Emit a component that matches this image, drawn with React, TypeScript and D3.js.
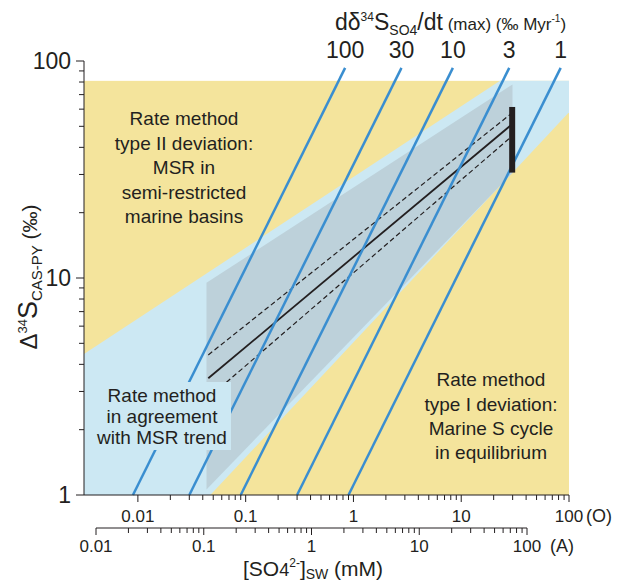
import React from "react";
import * as d3 from "d3";

// ---- data ----
const rates = [100, 30, 10, 3, 1]; // dδ34S/dt (max) lines, ‰/Myr
const rateLineDelta = [1, 93]; // Δ34S range of each rate line
const rateCoef = 0.9; // [SO4] (O) at Δ=1 for rate 1

const plotBox = { xMin: Math.pow(10, -2.5), xMax: 100, yMin: 1, yMax: 81 };

// light blue band polygon ([SO4] O, Δ34S)
const bandX = [Math.pow(10, -2.5), Math.pow(10, -2.5), 22.9, 100, 100, 0.047];
const bandY = [1, 4.47, 81, 81, 58, 1];

// gray envelope polygon
const grayX = [0.0433, 0.0433, 29.9, 29.9];
const grayY = [1.06, 9.5, 78, 30.5];

// trend lines
const trendX = [0.045, 29.5];
const trendMid = [3.45, 51];
const trendUp = [4.42, 57.5];
const trendLo = [2.8, 45];

// vertical bar
const barX = 29.7;
const barY = [30.6, 61.4];

const oTicksMajor = [0.01, 0.1, 1, 10, 100];
const oTickLabels = ["0.01", "0.1", "1", "10", "100"];
const aTicksMajor = [0.01, 0.1, 1, 10, 100];
const aTickLabels = ["0.01", "0.1", "1", "10", "100"];
const yTicksMajor = [1, 10, 100];
const yTickLabels = ["1", "10", "100"];

const minorMult = [2, 3, 4, 5, 6, 7, 8, 9];

const YELLOW = "#f4e49c";
const LBLUE = "#cce8f3";
const GRAY = "#bdd1da";
const LINEBLUE = "#3a8ed0";
const INK = "#231f20";
const FONT = "'Liberation Sans', Arial, sans-serif";

export default function App() {
  const x = d3.scaleLog().domain([plotBox.xMin, 100]).range([84, 569]);
  const y = d3.scaleLog().domain([1, 100]).range([495, 61]);
  const xa = d3.scaleLog().domain([0.01, 100]).range([96, 527]);

  const poly = (xs: number[], ys: number[]) =>
    d3.line<number>().x((_, i) => x(xs[i])).y((_, i) => y(ys[i]))(xs.map((v) => v)) + "Z";
  const seg = (xs: number[], ys: number[]) =>
    d3.line<number>().x((_, i) => x(xs[i])).y((_, i) => y(ys[i]))(xs.map((v) => v)) || "";

  const minors = (lo: number, hi: number) => {
    const out: number[] = [];
    for (let d = lo; d < hi; d *= 10) minorMult.forEach((m) => out.push(d * m));
    return out;
  };

  const oMinor = minors(0.01, 100);
  const aMinor = minors(0.01, 100);
  const yMinor = minors(1, 100);

  return (
    <svg
      width={619}
      height={584}
      style={{ position: "absolute", left: 0, top: 0, background: "#fff" }}
      fontFamily={FONT}
    >
      {/* background yellow */}
      <rect
        x={x(plotBox.xMin)}
        y={y(plotBox.yMax)}
        width={x(plotBox.xMax) - x(plotBox.xMin)}
        height={y(plotBox.yMin) - y(plotBox.yMax)}
        fill={YELLOW}
      />
      <path d={poly(bandX, bandY)} fill={LBLUE} />
      <path d={poly(grayX, grayY)} fill={GRAY} />

      {/* trend lines */}
      <path d={seg(trendX, trendUp)} stroke={INK} strokeWidth={1.2} strokeDasharray="5,3" fill="none" />
      <path d={seg(trendX, trendLo)} stroke={INK} strokeWidth={1.2} strokeDasharray="5,3" fill="none" />
      <path d={seg(trendX, trendMid)} stroke={INK} strokeWidth={1.8} fill="none" />

      {/* rate lines */}
      {rates.map((r) => {
        const xs = rateLineDelta.map((d) => (rateCoef * d) / r);
        return (
          <path key={r} d={seg(xs, rateLineDelta)} stroke={LINEBLUE} strokeWidth={2.5} fill="none" />
        );
      })}

      {/* bar */}
      <rect x={x(barX) - 3} y={y(barY[1])} width={6} height={y(barY[0]) - y(barY[1])} fill={INK} />

      {/* text box lower-left */}
      <rect x={93} y={382} width={138} height={68} fill={LBLUE} />
      <g fontSize={19} fill={INK} textAnchor="middle">
        <text x={162} y={401.5}>Rate method</text>
        <text x={162} y={422.5}>in agreement</text>
        <text x={162} y={443.5}>with MSR trend</text>
      </g>

      {/* annotations */}
      <g fontSize={19} fill={INK} textAnchor="middle">
        <text x={184} y={125}>Rate method</text>
        <text x={184} y={149.5}>type II deviation:</text>
        <text x={184} y={174}>MSR in</text>
        <text x={184} y={198.5}>semi-restricted</text>
        <text x={184} y={222.5}>marine basins</text>

        <text x={491} y={386}>Rate method</text>
        <text x={491} y={410.5}>type I deviation:</text>
        <text x={491} y={435}>Marine S cycle</text>
        <text x={491} y={459}>in equilibrium</text>
      </g>

      {/* rate labels */}
      <g fontSize={23} fill={INK} textAnchor="middle">
        {rates.map((r) => (
          <text key={r} x={x((rateCoef * rateLineDelta[1]) / r)} y={58}>
            {r}
          </text>
        ))}
      </g>

      {/* title */}
      <text x={335} y={30} fill={INK} fontSize={23}>
        <tspan>dδ</tspan>
        <tspan fontSize={12} dy={-9}>34</tspan>
        <tspan dy={9}>S</tspan>
        <tspan fontSize={14} dy={5}>SO4</tspan>
        <tspan dy={-5}>/dt</tspan>
        <tspan fontSize={17}> (max) (‰ Myr</tspan>
        <tspan fontSize={10} dy={-8}>-1</tspan>
        <tspan fontSize={17} dy={8}>)</tspan>
      </text>

      {/* Y axis */}
      <g stroke={INK} strokeWidth={1}>
        <line x1={84} x2={84} y1={y(100)} y2={y(1)} />
        {yTicksMajor.map((t) => (
          <line key={t} x1={76} x2={84} y1={y(t)} y2={y(t)} />
        ))}
        {yMinor.map((t) => (
          <line key={t} x1={79} x2={84} y1={y(t)} y2={y(t)} />
        ))}
      </g>
      <g fontSize={23} fill={INK} textAnchor="end">
        {yTicksMajor.map((t, i) => (
          <text key={t} x={71} y={y(t) + 8}>
            {yTickLabels[i]}
          </text>
        ))}
      </g>
      <text transform="translate(37,277) rotate(-90)" textAnchor="middle" fill={INK} fontSize={24}>
        <tspan>Δ</tspan>
        <tspan fontSize={13} dy={-10}>34</tspan>
        <tspan fontSize={27} dy={10}>S</tspan>
        <tspan fontSize={15} dy={5}>CAS-PY</tspan>
        <tspan fontSize={21} dy={-5}>{"  (‰)"}</tspan>
      </text>

      {/* O axis */}
      <g stroke={INK} strokeWidth={1}>
        <line x1={84} x2={569} y1={495} y2={495} />
        {oTicksMajor.map((t) => (
          <line key={t} x1={x(t)} x2={x(t)} y1={495} y2={502} />
        ))}
        {oMinor.map((t) => (
          <line key={t} x1={x(t)} x2={x(t)} y1={495} y2={500} />
        ))}
      </g>
      <g fontSize={17} fill={INK} textAnchor="middle">
        {oTicksMajor.map((t, i) => (
          <text key={t} x={x(t)} y={521.5}>
            {oTickLabels[i]}
          </text>
        ))}
      </g>
      <text x={586} y={521.5} fontSize={18} fill={INK}>(O)</text>

      {/* A axis */}
      <g stroke={INK} strokeWidth={1}>
        <line x1={xa(0.01)} x2={xa(100)} y1={528} y2={528} />
        {aTicksMajor.map((t) => (
          <line key={t} x1={xa(t)} x2={xa(t)} y1={528} y2={535} />
        ))}
        {aMinor.map((t) => (
          <line key={t} x1={xa(t)} x2={xa(t)} y1={528} y2={533} />
        ))}
      </g>
      <g fontSize={17} fill={INK} textAnchor="middle">
        {aTicksMajor.map((t, i) => (
          <text key={t} x={xa(t)} y={552}>
            {aTickLabels[i]}
          </text>
        ))}
      </g>
      <text x={550} y={552} fontSize={18} fill={INK}>(A)</text>

      <text x={243} y={576} fill={INK} fontSize={21}>
        <tspan>[SO</tspan>
        <tspan fontSize={18}>4</tspan>
        <tspan fontSize={12} dy={-9}>2-</tspan>
        <tspan dy={9}>]</tspan>
        <tspan fontSize={14} dy={3}>SW</tspan>
        <tspan dy={-3}> (mM)</tspan>
      </text>
    </svg>
  );
}
